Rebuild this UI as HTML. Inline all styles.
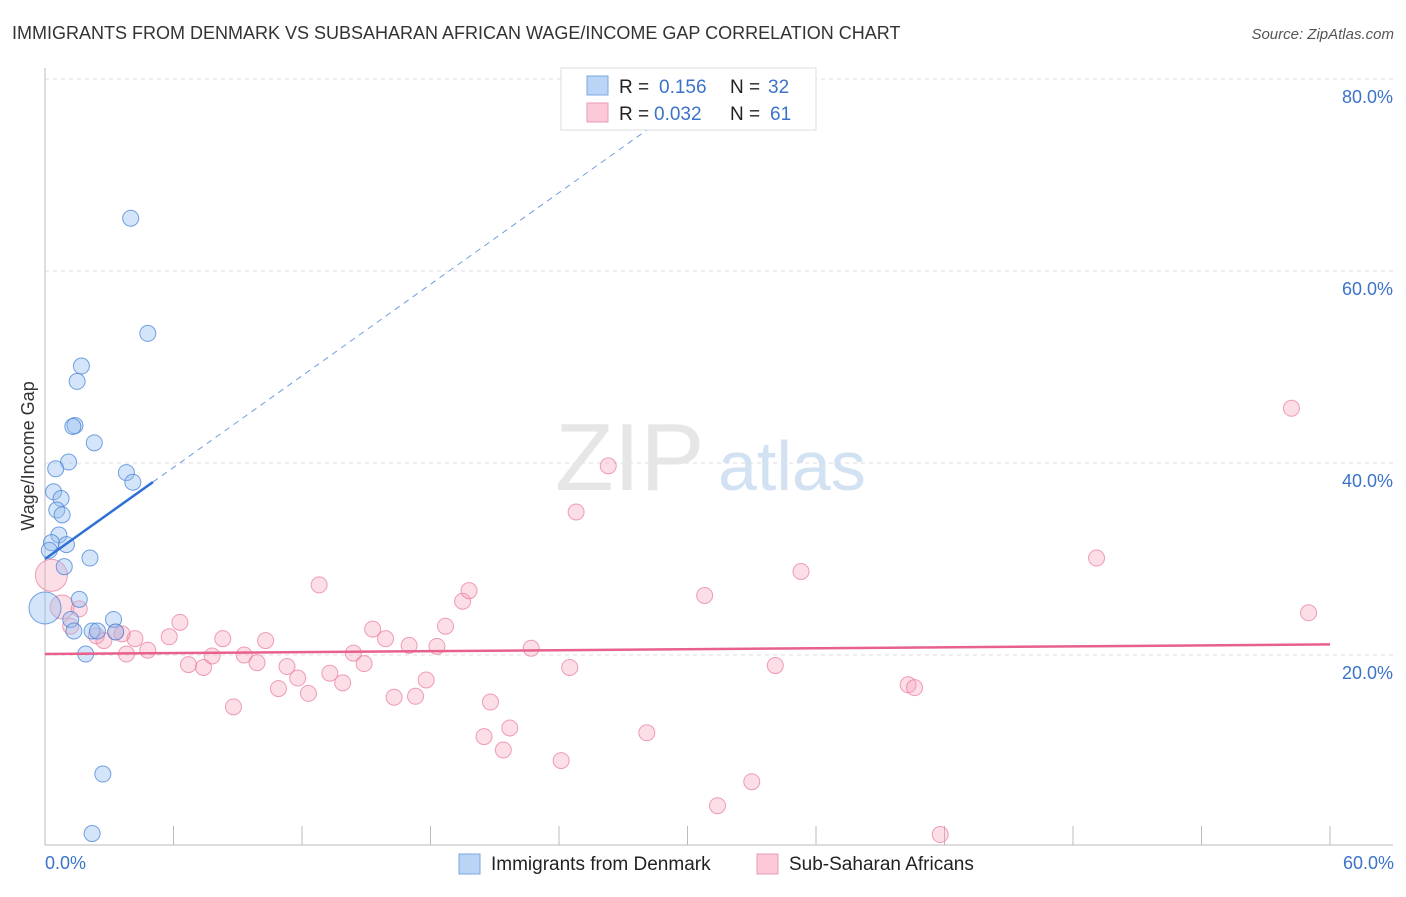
<!DOCTYPE html>
<html><head><meta charset="utf-8">
<style>
body{margin:0;background:#fff;font-family:"Liberation Sans",sans-serif;}
svg text{font-family:"Liberation Sans",sans-serif;}
</style></head>
<body>
<svg id="chart" width="1406" height="892" xmlns="http://www.w3.org/2000/svg">
<text x="12" y="39" font-size="18" fill="#333">IMMIGRANTS FROM DENMARK VS SUBSAHARAN AFRICAN WAGE/INCOME GAP CORRELATION CHART</text>
<text x="1394" y="39" font-size="15" fill="#555" font-style="italic" text-anchor="end">Source: ZipAtlas.com</text>
<g id="grid"></g>
<g><text x="555" y="490" font-size="96" fill="#e6e6e6" font-family="Liberation Serif" >ZIP</text><text x="718" y="490" font-size="70" fill="#d3e2f3">atlas</text></g>
<g id="pts"></g>
<g id="trend"></g>
<text transform="translate(34,456) rotate(-90)" font-size="18" fill="#333" text-anchor="middle">Wage/Income Gap</text>
<text x="45" y="869" font-size="18" fill="#3b73c9">0.0%</text>
<text x="1394" y="869" font-size="18" fill="#3b73c9" text-anchor="end">60.0%</text>
<g>
<rect x="561" y="68" width="255" height="62" fill="#fff" stroke="#ddd"/>
<rect x="587" y="76" width="21" height="19" fill="#b9d4f5" stroke="#7aa7e0"/>
<rect x="587" y="103" width="21" height="19" fill="#fbc9d7" stroke="#eb9ab3"/>
<text x="619" y="93" font-size="19" fill="#222">R = </text><text x="659" y="93" font-size="19" fill="#3b73c9">0.156</text>
<text x="730" y="93" font-size="19" fill="#222">N = </text><text x="768" y="93" font-size="19" fill="#3b73c9">32</text>
<text x="619" y="120" font-size="19" fill="#222">R = </text><text x="654" y="120" font-size="19" fill="#3b73c9">0.032</text>
<text x="730" y="120" font-size="19" fill="#222">N = </text><text x="770" y="120" font-size="19" fill="#3b73c9">61</text>
</g>
<g>
<rect x="459" y="854" width="21" height="20" fill="#b9d4f5" stroke="#7aa7e0"/>
<text x="491" y="870" font-size="19" fill="#222">Immigrants from Denmark</text>
<rect x="757" y="854" width="21" height="20" fill="#fbc9d7" stroke="#eb9ab3"/>
<text x="789" y="870" font-size="19" fill="#222">Sub-Saharan Africans</text>
</g>
</svg>
<script>
const yTicks=[20,40,60,80];
const yTickLabels=["20.0%","40.0%","60.0%","80.0%"];
const xTicks=[0,6,12,18,24,30,36,42,48,54,60];
const blueX=[4.0,4.8,1.7,1.5,1.4,1.3,2.3,1.1,0.5,3.8,4.1,0.4,0.75,0.55,0.8,0.65,0.3,1.0,0.2,2.1,0.9,0,1.6,1.2,1.35,3.2,2.2,2.45,3.3,1.9,2.7,2.2];
const blueY=[65.5,53.5,50.1,48.5,43.9,43.8,42.1,40.1,39.4,39.0,38.0,37.0,36.3,35.1,34.6,32.5,31.7,31.5,30.9,30.1,29.2,24.9,25.8,23.7,22.5,23.7,22.5,22.5,22.4,20.1,7.6,1.4];
const blueSize=[1,1,1,1,1,1,1,1,1,1,1,1,1,1,1,1,1,1,1,1,1,2,1,1,1,1,1,1,1,1,1,1];
const pinkX=[0.3,0.8,1.6,2.4,2.75,3.3,3.8,4.2,4.8,5.8,6.3,6.7,7.4,7.8,8.3,8.8,9.3,9.9,10.3,10.9,11.3,11.8,12.3,12.8,13.3,13.9,14.4,14.9,15.3,15.9,16.3,17.0,17.3,17.8,18.3,18.7,19.5,19.8,20.5,20.8,21.4,21.7,22.7,24.1,24.5,24.8,26.3,28.1,30.8,31.4,33.0,34.1,35.3,40.3,40.6,41.8,49.1,58.2,59.0,3.6,1.2];
const pinkY=[28.3,25.0,24.8,22.0,21.5,22.4,20.1,21.7,20.5,21.9,23.4,19.0,18.7,19.9,21.7,14.6,20.0,19.2,21.5,16.5,18.8,17.6,16.0,27.3,18.1,17.1,20.2,19.1,22.7,21.7,15.6,21.0,15.7,17.4,20.9,23.0,25.6,26.7,11.5,15.1,10.1,12.4,20.7,9.0,18.7,34.9,39.7,11.9,26.2,4.3,6.8,18.9,28.7,16.9,16.6,1.3,30.1,45.7,24.4,22.2,23.0];
const pinkSize=[2,1.5,1,1,1,1,1,1,1,1,1,1,1,1,1,1,1,1,1,1,1,1,1,1,1,1,1,1,1,1,1,1,1,1,1,1,1,1,1,1,1,1,1,1,1,1,1,1,1,1,1,1,1,1,1,1,1,1,1,1,1];
const blueTrend=[30.0,1.59];
const pinkTrend=[20.1,0.0167];
const NS="http://www.w3.org/2000/svg";
const X0=45,X1=1330,Y0=847,PPY=9.6;
function sx(v){return X0+(v/60)*(X1-X0);}
function sy(v){return Y0-v*PPY;}
function mk(t,a,p){const e=document.createElementNS(NS,t);for(const k in a)e.setAttribute(k,a[k]);p.appendChild(e);return e;}
const grid=document.getElementById('grid');
yTicks.forEach((t,i)=>{
 const l=mk('line',{x1:45,x2:1393,y1:sy(t),y2:sy(t),stroke:'#ddd','stroke-dasharray':'4,4'},grid);
 
 
 const tx=mk('text',{x:1393,y:sy(t)+24,'font-size':18,fill:'#3b73c9','text-anchor':'end'},grid);
 tx.textContent=yTickLabels[i];
 
 
});
const ax=mk('line',{x1:45,x2:1393,y1:845,y2:845,stroke:'#bbb'},grid);


const ay=mk('line',{x1:45,x2:45,y1:68,y2:845,stroke:'#bbb'},grid);


xTicks.forEach(t=>{
 const l=mk('line',{x1:sx(t),x2:sx(t),y1:826,y2:845,stroke:'#bbb'},grid);
 
 
});
const pts=document.getElementById('pts');
pinkX.forEach((v,i)=>{
 const c=mk('circle',{cx:sx(v),cy:sy(pinkY[i]),r:8*pinkSize[i],fill:'rgba(246,160,185,0.35)',stroke:'rgba(232,120,155,0.7)','stroke-width':1},pts);
 
 
});
blueX.forEach((v,i)=>{
 const c=mk('circle',{cx:sx(v),cy:sy(blueY[i]),r:8*blueSize[i],fill:'rgba(150,190,240,0.4)',stroke:'rgba(70,130,215,0.75)','stroke-width':1},pts);
 
 
});
const tr=document.getElementById('trend');
const bEnd=5.04, bDash=(80.7-blueTrend[0])/blueTrend[1];
const b1=mk('line',{x1:sx(0),y1:sy(blueTrend[0]),x2:sx(bEnd),y2:sy(blueTrend[0]+blueTrend[1]*bEnd),stroke:'#2f6fd6','stroke-width':2.5},tr);


const b2=mk('line',{x1:sx(bEnd),y1:sy(blueTrend[0]+blueTrend[1]*bEnd),x2:sx(bDash),y2:sy(blueTrend[0]+blueTrend[1]*bDash),stroke:'#6f9de0','stroke-width':1,'stroke-dasharray':'6,5'},tr);


const p1=mk('line',{x1:sx(0),y1:sy(pinkTrend[0]),x2:sx(60),y2:sy(pinkTrend[0]+pinkTrend[1]*60),stroke:'#e8608c','stroke-width':2.5},tr);


</script>
</body></html>
